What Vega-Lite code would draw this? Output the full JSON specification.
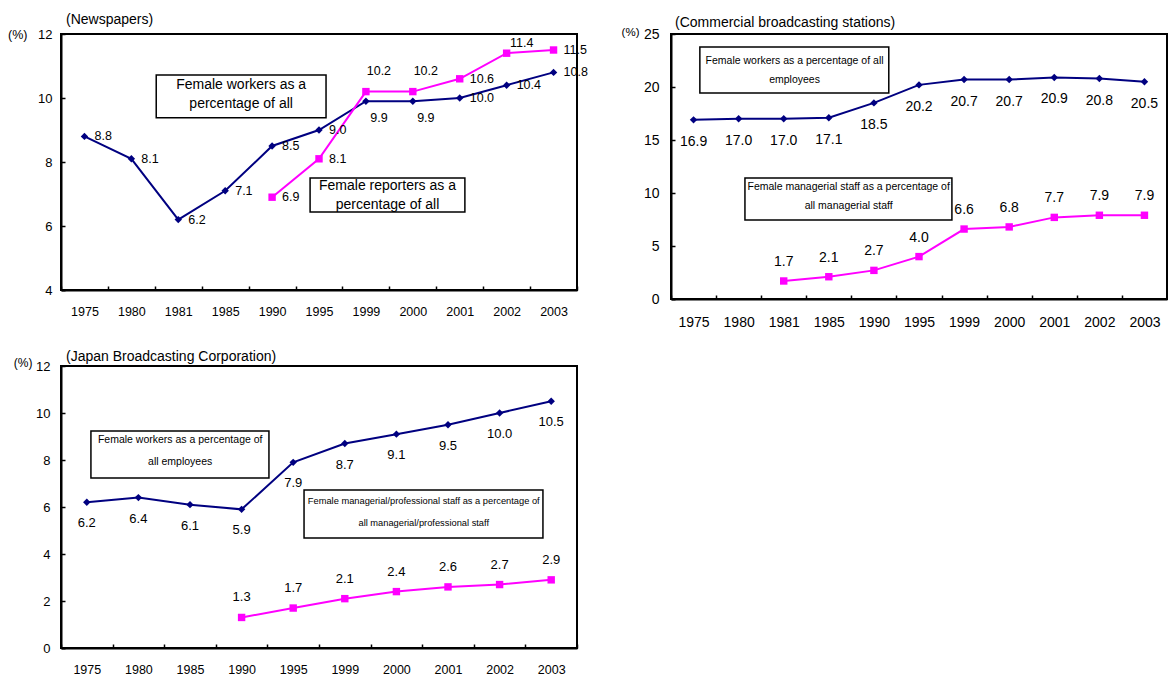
{
  "$schema": "https://vega.github.io/schema/vega-lite/v6.json",
  "autosize": {"type": "pad"},
  "padding": {"left": 6, "top": 12, "right": 0, "bottom": 2},
  "background": "white",
  "datasets": {
    "news": [
      {"year": "1975", "series": "workers", "value": 8.8},
      {"year": "1980", "series": "workers", "value": 8.1},
      {"year": "1981", "series": "workers", "value": 6.2},
      {"year": "1985", "series": "workers", "value": 7.1},
      {"year": "1990", "series": "workers", "value": 8.5},
      {"year": "1995", "series": "workers", "value": 9.0},
      {"year": "1999", "series": "workers", "value": 9.9},
      {"year": "2000", "series": "workers", "value": 9.9},
      {"year": "2001", "series": "workers", "value": 10.0},
      {"year": "2002", "series": "workers", "value": 10.4},
      {"year": "2003", "series": "workers", "value": 10.8},
      {"year": "1990", "series": "staff", "value": 6.9},
      {"year": "1995", "series": "staff", "value": 8.1},
      {"year": "1999", "series": "staff", "value": 10.2},
      {"year": "2000", "series": "staff", "value": 10.2},
      {"year": "2001", "series": "staff", "value": 10.6},
      {"year": "2002", "series": "staff", "value": 11.4},
      {"year": "2003", "series": "staff", "value": 11.5}
    ],
    "commercial": [
      {"year": "1975", "series": "workers", "value": 16.9},
      {"year": "1980", "series": "workers", "value": 17.0},
      {"year": "1981", "series": "workers", "value": 17.0},
      {"year": "1985", "series": "workers", "value": 17.1},
      {"year": "1990", "series": "workers", "value": 18.5},
      {"year": "1995", "series": "workers", "value": 20.2},
      {"year": "1999", "series": "workers", "value": 20.7},
      {"year": "2000", "series": "workers", "value": 20.7},
      {"year": "2001", "series": "workers", "value": 20.9},
      {"year": "2002", "series": "workers", "value": 20.8},
      {"year": "2003", "series": "workers", "value": 20.5},
      {"year": "1981", "series": "staff", "value": 1.7},
      {"year": "1985", "series": "staff", "value": 2.1},
      {"year": "1990", "series": "staff", "value": 2.7},
      {"year": "1995", "series": "staff", "value": 4.0},
      {"year": "1999", "series": "staff", "value": 6.6},
      {"year": "2000", "series": "staff", "value": 6.8},
      {"year": "2001", "series": "staff", "value": 7.7},
      {"year": "2002", "series": "staff", "value": 7.9},
      {"year": "2003", "series": "staff", "value": 7.9}
    ],
    "nhk": [
      {"year": "1975", "series": "workers", "value": 6.2},
      {"year": "1980", "series": "workers", "value": 6.4},
      {"year": "1985", "series": "workers", "value": 6.1},
      {"year": "1990", "series": "workers", "value": 5.9},
      {"year": "1995", "series": "workers", "value": 7.9},
      {"year": "1999", "series": "workers", "value": 8.7},
      {"year": "2000", "series": "workers", "value": 9.1},
      {"year": "2001", "series": "workers", "value": 9.5},
      {"year": "2002", "series": "workers", "value": 10.0},
      {"year": "2003", "series": "workers", "value": 10.5},
      {"year": "1990", "series": "staff", "value": 1.3},
      {"year": "1995", "series": "staff", "value": 1.7},
      {"year": "1999", "series": "staff", "value": 2.1},
      {"year": "2000", "series": "staff", "value": 2.4},
      {"year": "2001", "series": "staff", "value": 2.6},
      {"year": "2002", "series": "staff", "value": 2.7},
      {"year": "2003", "series": "staff", "value": 2.9}
    ],
    "news_notes": [
      {"x1": 2.03, "x2": 5.65, "y1": 10.72, "y2": 9.38, "tx": 3.84, "ty": 10.41, "label": "Female workers as a\npercentage of all"},
      {"x1": 5.31, "x2": 8.61, "y1": 7.5, "y2": 6.44, "tx": 6.96, "ty": 7.25, "label": "Female reporters as a\npercentage of all"}
    ],
    "commercial_notes": [
      {"x1": 0.64, "x2": 4.83, "y1": 23.77, "y2": 19.43, "tx": 2.74, "ty": 22.45, "label": "Female workers as a percentage of all\nemployees"},
      {"x1": 1.64, "x2": 6.23, "y1": 11.42, "y2": 7.45, "tx": 3.94, "ty": 10.57, "label": "Female managerial staff as a percentage of\nall managerial staff"}
    ],
    "nhk_notes": [
      {"x1": 0.58, "x2": 4.03, "y1": 9.23, "y2": 7.23, "tx": 2.31, "ty": 8.85, "label": "Female workers as a percentage of\nall employees"},
      {"x1": 4.71, "x2": 9.34, "y1": 6.72, "y2": 4.68, "tx": 7.03, "ty": 6.26, "label": "Female managerial/professional staff as a percentage of\nall managerial/professional staff"}
    ]
  },
  "columns": 2,
  "bounds": "flush",
  "align": "each",
  "spacing": {"row": 67, "column": 94},
  "concat": [
    {
      "width": 516,
      "height": 256,
      "title": {"text": "(Newspapers)", "anchor": "start", "frame": "group", "fontSize": 14, "fontWeight": "normal", "font": "Liberation Sans", "baseline": "middle", "offset": -6, "dx": 5, "color": "black"},
      "resolve": {"scale": {"x": "independent"}},
      "layer": [
        {
          "data": {"name": "news"},
          "encoding": {
            "x": {"field": "year", "type": "ordinal", "scale": {"type": "band", "domain": ["1975","1980","1981","1985","1990","1995","1999","2000","2001","2002","2003"], "paddingInner": 0, "paddingOuter": 0}, "axis": {"labelFontSize": 12.5, "labelPadding": 19}},
            "y": {"field": "value", "type": "quantitative", "scale": {"domain": [4, 12], "nice": false, "zero": false}, "axis": {"values": [4, 6, 8, 10, 12], "labelFontSize": 13, "labelPadding": 13, "title": "(%)", "titleAngle": 0, "titleAlign": "right", "titleBaseline": "middle", "titleX": -34, "titleY": 0, "titleFontSize": 12.5, "titleFontWeight": "normal"}},
            "color": {"field": "series", "type": "nominal", "scale": {"domain": ["workers", "staff"], "range": ["#000080", "#FF00FF"]}, "legend": null}
          },
          "layer": [
            {"mark": {"type": "line", "strokeWidth": 2}},
            {"mark": {"type": "point", "filled": true, "opacity": 1, "size": 55}, "encoding": {"shape": {"field": "series", "type": "nominal", "scale": {"domain": ["workers", "staff"], "range": ["diamond", "square"]}, "legend": null}}},
            {"transform": [{"filter": "(datum.series == 'workers' && indexof(['1999','2000'], datum.year) < 0) || (datum.series == 'staff' && indexof(['1999','2000','2002'], datum.year) < 0)"}], "mark": {"type": "text", "align": "left", "baseline": "middle", "dx": 10, "fontSize": 12.5}, "encoding": {"text": {"field": "value", "type": "quantitative", "format": ".1f"}, "color": {"value": "black"}}},
            {"transform": [{"filter": "datum.series == 'workers' && indexof(['1999','2000'], datum.year) >= 0"}], "mark": {"type": "text", "align": "center", "baseline": "middle", "dx": 13, "dy": 17, "fontSize": 12.5}, "encoding": {"text": {"field": "value", "type": "quantitative", "format": ".1f"}, "color": {"value": "black"}}},
            {"transform": [{"filter": "datum.series == 'staff' && indexof(['1999','2000'], datum.year) >= 0"}], "mark": {"type": "text", "align": "center", "baseline": "middle", "dx": 13, "dy": -21, "fontSize": 12.5}, "encoding": {"text": {"field": "value", "type": "quantitative", "format": ".1f"}, "color": {"value": "black"}}},
            {"transform": [{"filter": "datum.series == 'staff' && datum.year == '2002'"}], "mark": {"type": "text", "align": "center", "baseline": "middle", "dx": 15, "dy": -10, "fontSize": 12.5}, "encoding": {"text": {"field": "value", "type": "quantitative", "format": ".1f"}, "color": {"value": "black"}}}
          ]
        },
        {
          "data": {"name": "news_notes"},
          "layer": [
            {"mark": {"type": "rect", "fill": "white", "stroke": "black", "strokeWidth": 1.5}, "encoding": {
              "x": {"field": "x1", "type": "quantitative", "scale": {"domain": [0, 11], "nice": false, "zero": false}, "axis": null},
              "x2": {"field": "x2"},
              "y": {"field": "y1", "type": "quantitative", "scale": {"domain": [4, 12], "nice": false, "zero": false}, "axis": {"values": [4, 6, 8, 10, 12], "labelFontSize": 13, "labelPadding": 13, "title": "(%)", "titleAngle": 0, "titleAlign": "right", "titleBaseline": "middle", "titleX": -34, "titleY": 0, "titleFontSize": 12.5, "titleFontWeight": "normal"}},
              "y2": {"field": "y2"}}},
            {"mark": {"type": "text", "fontSize": 14, "lineBreak": "\n", "lineHeight": 19, "baseline": "middle", "align": "center"}, "encoding": {
              "x": {"field": "tx", "type": "quantitative", "scale": {"domain": [0, 11], "nice": false, "zero": false}, "axis": null},
              "y": {"field": "ty", "type": "quantitative", "scale": {"domain": [4, 12], "nice": false, "zero": false}, "axis": {"values": [4, 6, 8, 10, 12], "labelFontSize": 13, "labelPadding": 13, "title": "(%)", "titleAngle": 0, "titleAlign": "right", "titleBaseline": "middle", "titleX": -34, "titleY": 0, "titleFontSize": 12.5, "titleFontWeight": "normal"}},
              "text": {"field": "label"}, "color": {"value": "black"}}}
          ]
        }
      ]
    },
    {
      "width": 496,
      "height": 265,
      "title": {"text": "(Commercial broadcasting stations)", "anchor": "start", "frame": "group", "fontSize": 14, "fontWeight": "normal", "font": "Liberation Sans", "baseline": "middle", "offset": -11, "dx": 4, "color": "black"},
      "resolve": {"scale": {"x": "independent"}},
      "layer": [
        {
          "data": {"name": "commercial"},
          "encoding": {
            "x": {"field": "year", "type": "ordinal", "scale": {"type": "band", "domain": ["1975","1980","1981","1985","1990","1995","1999","2000","2001","2002","2003"], "paddingInner": 0, "paddingOuter": 0}, "axis": {"labelFontSize": 14, "labelPadding": 20}},
            "y": {"field": "value", "type": "quantitative", "scale": {"domain": [0, 25], "nice": false, "zero": false}, "axis": {"values": [0, 5, 10, 15, 20, 25], "labelFontSize": 14, "labelPadding": 16, "title": "(%)", "titleAngle": 0, "titleAlign": "right", "titleBaseline": "middle", "titleX": -32, "titleY": -2, "titleFontSize": 11.5, "titleFontWeight": "normal"}},
            "color": {"field": "series", "type": "nominal", "scale": {"domain": ["workers", "staff"], "range": ["#000080", "#FF00FF"]}, "legend": null}
          },
          "layer": [
            {"mark": {"type": "line", "strokeWidth": 2}},
            {"mark": {"type": "point", "filled": true, "opacity": 1, "size": 55}, "encoding": {"shape": {"field": "series", "type": "nominal", "scale": {"domain": ["workers", "staff"], "range": ["diamond", "square"]}, "legend": null}}},
            {"transform": [{"filter": "datum.series == 'workers'"}], "mark": {"type": "text", "align": "center", "baseline": "middle", "dy": 22, "fontSize": 14}, "encoding": {"text": {"field": "value", "type": "quantitative", "format": ".1f"}, "color": {"value": "black"}}},
            {"transform": [{"filter": "datum.series == 'staff'"}], "mark": {"type": "text", "align": "center", "baseline": "middle", "dy": -19, "fontSize": 14}, "encoding": {"text": {"field": "value", "type": "quantitative", "format": ".1f"}, "color": {"value": "black"}}}
          ]
        },
        {
          "data": {"name": "commercial_notes"},
          "layer": [
            {"mark": {"type": "rect", "fill": "white", "stroke": "black", "strokeWidth": 1.5}, "encoding": {
              "x": {"field": "x1", "type": "quantitative", "scale": {"domain": [0, 11], "nice": false, "zero": false}, "axis": null},
              "x2": {"field": "x2"},
              "y": {"field": "y1", "type": "quantitative", "scale": {"domain": [0, 25], "nice": false, "zero": false}, "axis": {"values": [0, 5, 10, 15, 20, 25], "labelFontSize": 14, "labelPadding": 16, "title": "(%)", "titleAngle": 0, "titleAlign": "right", "titleBaseline": "middle", "titleX": -32, "titleY": -2, "titleFontSize": 11.5, "titleFontWeight": "normal"}},
              "y2": {"field": "y2"}}},
            {"mark": {"type": "text", "fontSize": 10.5, "lineBreak": "\n", "lineHeight": 19, "baseline": "middle", "align": "center"}, "encoding": {
              "x": {"field": "tx", "type": "quantitative", "scale": {"domain": [0, 11], "nice": false, "zero": false}, "axis": null},
              "y": {"field": "ty", "type": "quantitative", "scale": {"domain": [0, 25], "nice": false, "zero": false}, "axis": {"values": [0, 5, 10, 15, 20, 25], "labelFontSize": 14, "labelPadding": 16, "title": "(%)", "titleAngle": 0, "titleAlign": "right", "titleBaseline": "middle", "titleX": -32, "titleY": -2, "titleFontSize": 11.5, "titleFontWeight": "normal"}},
              "text": {"field": "label"}, "color": {"value": "black"}}}
          ]
        }
      ]
    },
    {
      "width": 516,
      "height": 282,
      "title": {"text": "(Japan Broadcasting Corporation)", "anchor": "start", "frame": "group", "fontSize": 14, "fontWeight": "normal", "font": "Liberation Sans", "baseline": "middle", "offset": -15, "dx": 5, "color": "black"},
      "resolve": {"scale": {"x": "independent"}},
      "layer": [
        {
          "data": {"name": "nhk"},
          "encoding": {
            "x": {"field": "year", "type": "ordinal", "scale": {"type": "band", "domain": ["1975","1980","1985","1990","1995","1999","2000","2001","2002","2003"], "paddingInner": 0, "paddingOuter": 0}, "axis": {"labelFontSize": 12.5, "labelPadding": 19}},
            "y": {"field": "value", "type": "quantitative", "scale": {"domain": [0, 12], "nice": false, "zero": false}, "axis": {"values": [0, 2, 4, 6, 8, 10, 12], "labelFontSize": 13, "labelPadding": 15, "title": "(%)", "titleAngle": 0, "titleAlign": "right", "titleBaseline": "middle", "titleX": -29, "titleY": -4, "titleFontSize": 12, "titleFontWeight": "normal"}},
            "color": {"field": "series", "type": "nominal", "scale": {"domain": ["workers", "staff"], "range": ["#000080", "#FF00FF"]}, "legend": null}
          },
          "layer": [
            {"mark": {"type": "line", "strokeWidth": 2}},
            {"mark": {"type": "point", "filled": true, "opacity": 1, "size": 55}, "encoding": {"shape": {"field": "series", "type": "nominal", "scale": {"domain": ["workers", "staff"], "range": ["diamond", "square"]}, "legend": null}}},
            {"transform": [{"filter": "datum.series == 'workers'"}], "mark": {"type": "text", "align": "center", "baseline": "middle", "dy": 21, "fontSize": 13}, "encoding": {"text": {"field": "value", "type": "quantitative", "format": ".1f"}, "color": {"value": "black"}}},
            {"transform": [{"filter": "datum.series == 'staff'"}], "mark": {"type": "text", "align": "center", "baseline": "middle", "dy": -20, "fontSize": 13}, "encoding": {"text": {"field": "value", "type": "quantitative", "format": ".1f"}, "color": {"value": "black"}}}
          ]
        },
        {
          "data": {"name": "nhk_notes"},
          "layer": [
            {"mark": {"type": "rect", "fill": "white", "stroke": "black", "strokeWidth": 1.5}, "encoding": {
              "x": {"field": "x1", "type": "quantitative", "scale": {"domain": [0, 10], "nice": false, "zero": false}, "axis": null},
              "x2": {"field": "x2"},
              "y": {"field": "y1", "type": "quantitative", "scale": {"domain": [0, 12], "nice": false, "zero": false}, "axis": {"values": [0, 2, 4, 6, 8, 10, 12], "labelFontSize": 13, "labelPadding": 15, "title": "(%)", "titleAngle": 0, "titleAlign": "right", "titleBaseline": "middle", "titleX": -29, "titleY": -4, "titleFontSize": 12, "titleFontWeight": "normal"}},
              "y2": {"field": "y2"}}},
            {"transform": [{"filter": "datum.x1 < 1"}], "mark": {"type": "text", "fontSize": 10.5, "lineBreak": "\n", "lineHeight": 22, "baseline": "middle", "align": "center"}, "encoding": {
              "x": {"field": "tx", "type": "quantitative", "scale": {"domain": [0, 10], "nice": false, "zero": false}, "axis": null},
              "y": {"field": "ty", "type": "quantitative", "scale": {"domain": [0, 12], "nice": false, "zero": false}, "axis": {"values": [0, 2, 4, 6, 8, 10, 12], "labelFontSize": 13, "labelPadding": 15, "title": "(%)", "titleAngle": 0, "titleAlign": "right", "titleBaseline": "middle", "titleX": -29, "titleY": -4, "titleFontSize": 12, "titleFontWeight": "normal"}},
              "text": {"field": "label"}, "color": {"value": "black"}}},
            {"transform": [{"filter": "datum.x1 > 1"}], "mark": {"type": "text", "fontSize": 9.3, "lineBreak": "\n", "lineHeight": 22, "baseline": "middle", "align": "center"}, "encoding": {
              "x": {"field": "tx", "type": "quantitative", "scale": {"domain": [0, 10], "nice": false, "zero": false}, "axis": null},
              "y": {"field": "ty", "type": "quantitative", "scale": {"domain": [0, 12], "nice": false, "zero": false}, "axis": {"values": [0, 2, 4, 6, 8, 10, 12], "labelFontSize": 13, "labelPadding": 15, "title": "(%)", "titleAngle": 0, "titleAlign": "right", "titleBaseline": "middle", "titleX": -29, "titleY": -4, "titleFontSize": 12, "titleFontWeight": "normal"}},
              "text": {"field": "label"}, "color": {"value": "black"}}}
          ]
        }
      ]
    }
  ],
  "config": {
    "font": "Liberation Sans",
    "view": {"stroke": "black", "strokeWidth": 2},
    "axis": {"grid": false, "tickBand": "extent", "tickSize": -4, "tickColor": "black", "tickWidth": 1.5, "domainColor": "black", "domainWidth": 2, "labelColor": "black", "labelAngle": 0, "labelFont": "Liberation Sans", "labelOverlap": false, "titleFont": "Liberation Sans", "titleColor": "black"},
    "axisX": {"title": null},
    "text": {"font": "Liberation Sans", "color": "black"}
  }
}
